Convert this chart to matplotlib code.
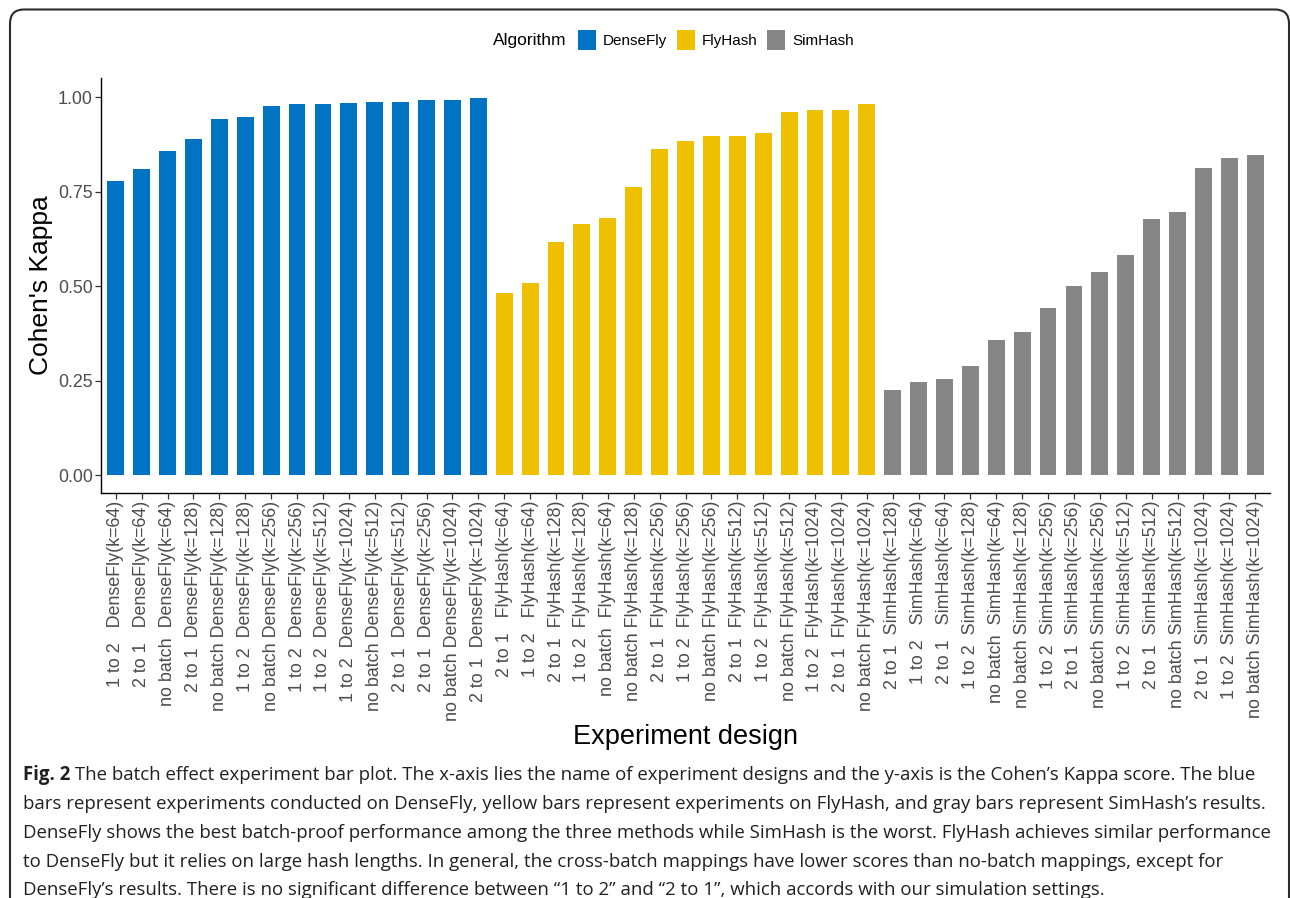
import matplotlib
matplotlib.use("Agg")
import matplotlib.pyplot as plt
from matplotlib.patches import Patch, FancyBboxPatch

# Cohen's kappa per experiment design, sorted ascending within each algorithm
algorithms = ["DenseFly", "FlyHash", "SimHash"]
colors = ["#0073C2", "#EFC000", "#868686"]

densefly_batch = ["1 to 2", "2 to 1", "no batch", "2 to 1", "no batch", "1 to 2", "no batch", "1 to 2",
                  "1 to 2", "1 to 2", "no batch", "2 to 1", "2 to 1", "no batch", "2 to 1"]
densefly_k = [64, 64, 64, 128, 128, 128, 256, 256, 512, 1024, 512, 512, 256, 1024, 1024]
densefly_kappa = [0.779, 0.809, 0.858, 0.890, 0.943, 0.947, 0.977, 0.983, 0.983, 0.985,
                  0.988, 0.988, 0.992, 0.992, 0.999]

flyhash_batch = ["2 to 1", "1 to 2", "2 to 1", "1 to 2", "no batch", "no batch", "2 to 1", "1 to 2",
                 "no batch", "2 to 1", "1 to 2", "no batch", "1 to 2", "2 to 1", "no batch"]
flyhash_k = [64, 64, 128, 128, 64, 128, 256, 256, 256, 512, 512, 512, 1024, 1024, 1024]
flyhash_kappa = [0.483, 0.509, 0.616, 0.665, 0.680, 0.762, 0.862, 0.883, 0.898, 0.898,
                 0.905, 0.962, 0.965, 0.965, 0.983]

simhash_batch = ["2 to 1", "1 to 2", "2 to 1", "1 to 2", "no batch", "no batch", "1 to 2", "2 to 1",
                 "no batch", "1 to 2", "2 to 1", "no batch", "2 to 1", "1 to 2", "no batch"]
simhash_k = [128, 64, 64, 128, 64, 128, 256, 256, 256, 512, 512, 512, 1024, 1024, 1024]
simhash_kappa = [0.226, 0.247, 0.255, 0.289, 0.357, 0.378, 0.441, 0.500, 0.537, 0.582,
                 0.677, 0.696, 0.814, 0.838, 0.847]

caption_lines = [
    "The batch effect experiment bar plot. The x-axis lies the name of experiment designs and the y-axis is the Cohen\u2019s Kappa score. The blue",
    "bars represent experiments conducted on DenseFly, yellow bars represent experiments on FlyHash, and gray bars represent SimHash\u2019s results.",
    "DenseFly shows the best batch-proof performance among the three methods while SimHash is the worst. FlyHash achieves similar performance",
    "to DenseFly but it relies on large hash lengths. In general, the cross-batch mappings have lower scores than no-batch mappings, except for",
    "DenseFly\u2019s results. There is no significant difference between \u201c1 to 2\u201d and \u201c2 to 1\u201d, which accords with our simulation settings.",
]


def make_label(batch, alg, k):
    gap = " " if batch == "no batch" else "  "
    if k == 64:
        gap += " "
    return f"{batch}{gap}{alg}(k={k})"


groups = [
    ("DenseFly", densefly_batch, densefly_k, densefly_kappa),
    ("FlyHash", flyhash_batch, flyhash_k, flyhash_kappa),
    ("SimHash", simhash_batch, simhash_k, simhash_kappa),
]

labels, values, bar_colors = [], [], []
for (alg, batches, ks, kappas), col in zip(groups, colors):
    for b, k, v in zip(batches, ks, kappas):
        labels.append(make_label(b, alg, k))
        values.append(v)
        bar_colors.append(col)

W, H = 1290, 898
fig = plt.figure(figsize=(W / 100, H / 100), dpi=100)
plt.rcParams["font.family"] = ["Liberation Sans", "DejaVu Sans"]

ax = fig.add_axes([101 / W, 1 - 492.5 / H, (1270 - 101) / W, (492.5 - 78) / H])
x = list(range(len(values)))
ax.bar(x, values, width=0.65, color=bar_colors)
ax.set_xlim(-0.57, len(values) - 1 + 0.57)
ax.set_ylim(-0.046, 1.051)
ax.set_yticks([0, 0.25, 0.5, 0.75, 1.0])
ax.set_yticklabels(["0.00", "0.25", "0.50", "0.75", "1.00"])
ax.set_xticks(x)
ax.set_xticklabels(labels, rotation=90, ha="center", va="top")
for s in ["top", "right"]:
    ax.spines[s].set_visible(False)
for s in ["left", "bottom"]:
    ax.spines[s].set_linewidth(1.0)
    ax.spines[s].set_color("black")
ax.tick_params(axis="both", length=4, width=0.9, color="#333333",
               labelcolor="#4D4D4D", labelsize=12.9, pad=2)

ax.set_ylabel("Cohen's Kappa", fontsize=19, color="black", va="center")
ax.yaxis.set_label_coords((41 - 101) / (1270 - 101), 0.5)
ax.set_xlabel("Experiment design", fontsize=19.5, color="black", va="center")
ax.xaxis.set_label_coords(0.5, (492.5 - 737) / (492.5 - 78))

# legend along the top
handles = [Patch(facecolor=c, edgecolor="none") for c in colors]
fig.legend(handles, algorithms, ncol=3, loc="center left",
           bbox_to_anchor=(578 / W, 1 - 40 / H), frameon=False, fontsize=11,
           handlelength=1.2, handleheight=1.55, handletextpad=0.45,
           columnspacing=0.6, borderpad=0, borderaxespad=0)
fig.text(493 / W, 1 - 40 / H, "Algorithm", fontsize=12.5, ha="left", va="center")

# rounded frame around figure + caption
frame = FancyBboxPatch((10, -40), 1279, H - 9.5 + 40,
                       boxstyle="round,pad=0,rounding_size=14",
                       transform=None, fill=False, edgecolor="#2b2b2b", linewidth=1.5)
fig.add_artist(frame)

renderer = fig.canvas.get_renderer()
cap_font = ["Open Sans", "DejaVu Sans"]
cap_x0 = 23
cap_y = [775, 804, 833, 862, 890]
cap_right = [1276, 1262, 1276, 1228, 1120]

size = 13.0
bold = fig.text(cap_x0 / W, 1 - cap_y[0] / H, "Fig. 2", family=cap_font, fontweight="bold",
                fontsize=size, va="center", ha="left", color="#231F20")
texts = [fig.text(0, 1 - cap_y[0] / H, " " + caption_lines[0], family=cap_font,
                  fontsize=size, va="center", ha="left", color="#231F20")]
for line, yy in zip(caption_lines[1:], cap_y[1:]):
    texts.append(fig.text(cap_x0 / W, 1 - yy / H, line, family=cap_font, fontsize=size,
                          va="center", ha="left", color="#231F20"))

# one font size for the caption, small enough that no line runs past the frame
wb = bold.get_window_extent(renderer).width
scales = []
for i, (t, r) in enumerate(zip(texts, cap_right[:3])):
    w = t.get_window_extent(renderer).width + (wb if i == 0 else 0)
    scales.append((r - cap_x0) / w)
size = size * min(scales)
bold.set_fontsize(size)
for t in texts:
    t.set_fontsize(size)
wb = bold.get_window_extent(renderer).width
texts[0].set_x((cap_x0 + wb) / W)

fig.savefig("out.png", dpi=100)
